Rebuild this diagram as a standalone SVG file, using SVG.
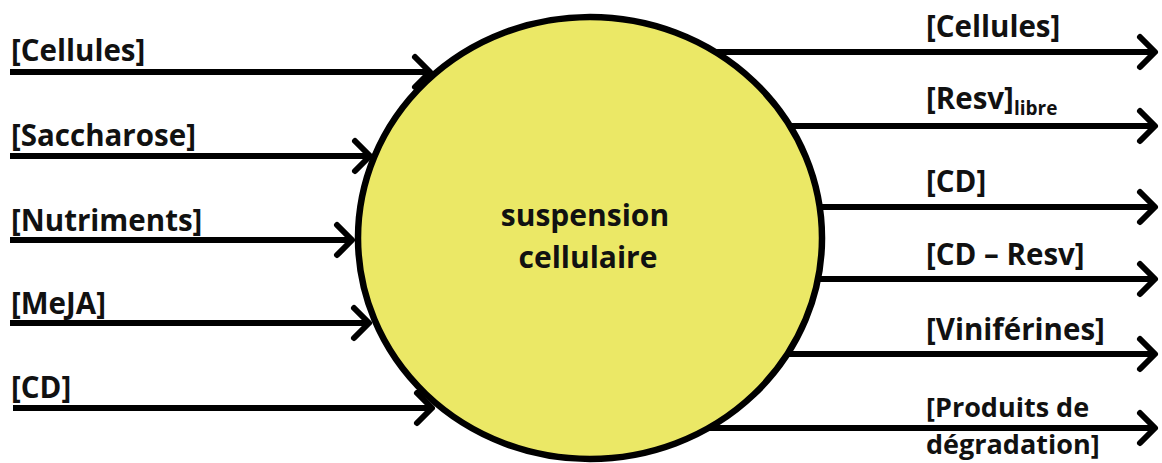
<svg xmlns="http://www.w3.org/2000/svg" width="1162" height="463" viewBox="0 0 1162 463">
<style>
.lbl{font-family:"Open Sans","Liberation Sans",sans-serif;font-weight:700;font-size:29.5px;fill:#111}
.sm{font-size:27px}
.sub{font-size:19px}
.ctr{font-family:"Open Sans","Liberation Sans",sans-serif;font-weight:700;font-size:30px;fill:#111;text-anchor:middle}
.con{stroke:#000;stroke-width:6;fill:none;marker-end:url(#chev)}
</style>
<defs>
<marker id="chev" markerUnits="userSpaceOnUse" viewBox="-20 -20 26 40" refX="0" refY="0" markerWidth="26" markerHeight="40" orient="auto" overflow="visible">
<path d="M-15,-15 L0,0 L-15,15" fill="none" stroke="#000" stroke-width="6" stroke-linecap="round" stroke-linejoin="round"/>
</marker>
</defs>
<rect width="1162" height="463" fill="#fff"/>
<g id="node-suspension">
<ellipse cx="590" cy="238" rx="232" ry="221" fill="#EBE866" stroke="#000" stroke-width="6.5"/>
<text class="ctr" x="585" y="226">suspension</text>
<text class="ctr" x="588" y="268">cellulaire</text>
</g>
<g id="connectors">
<line class="con" x1="10" y1="72" x2="430" y2="72"/>
<line class="con" x1="10" y1="156" x2="370" y2="156"/>
<line class="con" x1="10" y1="240" x2="352" y2="240"/>
<line class="con" x1="10" y1="323" x2="369" y2="323"/>
<line class="con" x1="13" y1="408" x2="432" y2="408"/>
<line class="con" x1="715" y1="52" x2="1155" y2="52"/>
<line class="con" x1="790" y1="126" x2="1155" y2="126"/>
<line class="con" x1="820" y1="207" x2="1155" y2="207"/>
<line class="con" x1="818" y1="279" x2="1155" y2="279"/>
<line class="con" x1="787" y1="354" x2="1155" y2="354"/>
<line class="con" x1="709" y1="428" x2="1155" y2="428"/>
</g>
<g id="in-cellules"><text class="lbl" x="11" y="61">[Cellules]</text></g>
<g id="in-saccharose"><text class="lbl" x="11" y="146">[Saccharose]</text></g>
<g id="in-nutriments"><text class="lbl" x="11" y="231">[Nutriments]</text></g>
<g id="in-meja"><text class="lbl" x="11" y="314">[MeJA]</text></g>
<g id="in-cd"><text class="lbl" x="11" y="398">[CD]</text></g>
<g id="out-cellules"><text class="lbl" x="926" y="37">[Cellules]</text></g>
<g id="out-resv"><text class="lbl" x="926" y="109">[Resv]<tspan class="sub" dy="6">libre</tspan></text></g>
<g id="out-cd"><text class="lbl" x="926" y="192">[CD]</text></g>
<g id="out-cdresv"><text class="lbl" x="926" y="265">[CD – Resv]</text></g>
<g id="out-viniferines"><text class="lbl" x="926" y="340">[Viniférines]</text></g>
<g id="out-produits"><text class="lbl sm" x="926" y="417">[Produits de</text><text class="lbl sm" x="926" y="454">dégradation]</text></g>
</svg>
